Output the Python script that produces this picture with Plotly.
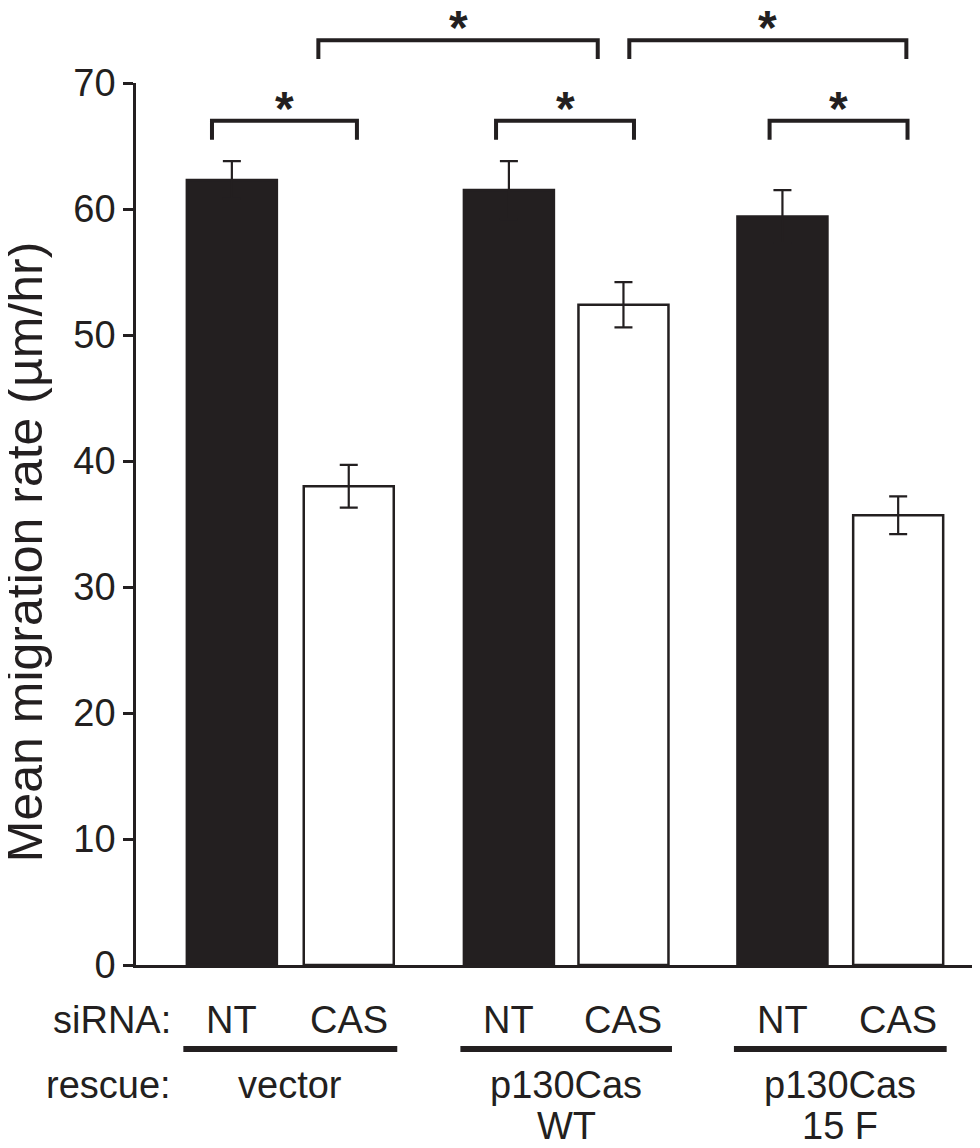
import plotly.graph_objects as go

# ---------------- data ----------------
sirna = ["NT", "CAS", "NT", "CAS", "NT", "CAS"]
rescue = ["vector", "p130Cas<br>WT", "p130Cas<br>15 F"]
bar_x = [1.0, 2.0, 3.37, 4.35, 5.71, 6.70]
mean_rate = [62.3, 38.0, 61.5, 52.4, 59.4, 35.7]
sem = [1.5, 1.7, 2.3, 1.8, 2.1, 1.5]
bar_fill = ["#231f20", "#ffffff", "#231f20", "#ffffff", "#231f20", "#ffffff"]
y_ticks = [0, 10, 20, 30, 40, 50, 60, 70]
# significance brackets
sig_left = [0.83, 3.26, 5.60, 1.74, 4.40]
sig_right = [2.07, 4.44, 6.78, 4.13, 6.77]
sig_level = [67.0, 67.0, 67.0, 73.4, 73.4]
sig_label = ["*", "*", "*", "*", "*"]

# ---------------- style ----------------
INK = "#231f20"
FONT = "Liberation Sans, Arial, Helvetica, sans-serif"
X_RANGE = [0.18, 7.40]
Y_RANGE = [0, 70]
BAR_W = 0.77
DROP = 1.5
STAR_OFFSET = 0.98
ROW_SIRNA = -4.4
ROW_LINE = -6.67
ROW_RESCUE = [-9.5, -12.8]


def xp(x):
    return (x - X_RANGE[0]) / (X_RANGE[1] - X_RANGE[0])


def yp(y):
    return (y - Y_RANGE[0]) / (Y_RANGE[1] - Y_RANGE[0])


fig = go.Figure(
    go.Bar(
        x=bar_x,
        y=mean_rate,
        width=BAR_W,
        marker=dict(color=bar_fill, line=dict(color=INK, width=2.5)),
        error_y=dict(type="data", array=sem, visible=True, color=INK,
                     thickness=2.2, width=9),
        showlegend=False,
    )
)

shapes = []
annotations = []

# significance brackets and stars
for x0, x1, lv, lab in zip(sig_left, sig_right, sig_level, sig_label):
    path = (f"M {xp(x0)},{yp(lv - DROP)} L {xp(x0)},{yp(lv)} "
            f"L {xp(x1)},{yp(lv)} L {xp(x1)},{yp(lv - DROP)}")
    shapes.append(dict(type="path", xref="paper", yref="paper", path=path,
                       line=dict(color=INK, width=4)))
    annotations.append(dict(xref="paper", yref="paper", x=xp((x0 + x1) / 2),
                            y=yp(lv + STAR_OFFSET), text=f"<b>{lab}</b>",
                            showarrow=False, xanchor="center", yanchor="middle",
                            font=dict(size=48, color=INK, family=FONT)))

# siRNA row
annotations.append(dict(xref="paper", yref="paper", x=xp(bar_x[0] - 0.5),
                        y=yp(ROW_SIRNA), text="siRNA:", showarrow=False,
                        xanchor="right", yanchor="middle",
                        font=dict(size=38, color=INK, family=FONT)))
for xv, lab in zip(bar_x, sirna):
    annotations.append(dict(xref="paper", yref="paper", x=xp(xv), y=yp(ROW_SIRNA),
                            text=lab, showarrow=False, xanchor="center",
                            yanchor="middle",
                            font=dict(size=38, color=INK, family=FONT)))

# rescue rows and group underlines
annotations.append(dict(xref="paper", yref="paper", x=xp(bar_x[0] - 0.5),
                        y=yp(ROW_RESCUE[0]), text="rescue:", showarrow=False,
                        xanchor="right", yanchor="middle",
                        font=dict(size=38, color=INK, family=FONT)))
for g, lab in enumerate(rescue):
    xa = bar_x[2 * g] - BAR_W / 2 - 0.03
    xb = bar_x[2 * g + 1] + BAR_W / 2 + 0.03
    shapes.append(dict(type="line", xref="paper", yref="paper",
                       x0=xp(xa), x1=xp(xb), y0=yp(ROW_LINE), y1=yp(ROW_LINE),
                       line=dict(color=INK, width=6)))
    for k, part in enumerate(lab.split("<br>")):
        annotations.append(dict(xref="paper", yref="paper", x=xp((xa + xb) / 2),
                                y=yp(ROW_RESCUE[k]), text=part, showarrow=False,
                                xanchor="center", yanchor="middle",
                                font=dict(size=38, color=INK, family=FONT)))

# y-axis title
annotations.append(dict(xref="paper", yref="paper", x=-0.1315, y=0.468,
                        text="Mean migration rate (µm/hr)", textangle=-90,
                        showarrow=False, xanchor="center", yanchor="middle",
                        font=dict(size=50, color=INK, family=FONT)))

# the page body adds an 8 px offset, so the figure is sized to fit within it
fig.update_layout(
    width=972, height=1140,
    margin=dict(l=128, r=0, t=75, b=183),
    paper_bgcolor="white", plot_bgcolor="white",
    font=dict(family=FONT, color=INK),
    shapes=shapes, annotations=annotations,
    xaxis=dict(range=X_RANGE, showline=True, linecolor=INK, linewidth=2.5,
               ticks="", showticklabels=False, showgrid=False, zeroline=False,
               fixedrange=True),
    yaxis=dict(range=Y_RANGE, tickvals=y_ticks, showline=True, linecolor=INK,
               linewidth=2.5, ticks="outside", ticklen=10, tickwidth=2.5,
               tickcolor=INK, tickfont=dict(size=38, color=INK, family=FONT),
               showgrid=False, zeroline=False, fixedrange=True),
)

fig.write_html("out.html")
